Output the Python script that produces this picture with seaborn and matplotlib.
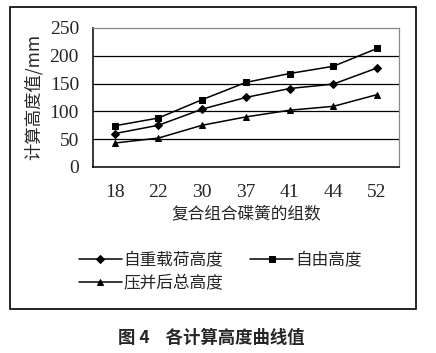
import pandas as pd
import numpy as np
import seaborn as sb
import matplotlib.pyplot as plt
from matplotlib.patches import Rectangle

# dados do gráfico
groups = ['18', '22', '30', '37', '41', '44', '52']
self_weight = [60, 75, 104, 125, 141, 149, 178]
free_height = [74, 88, 121, 152, 168, 181, 213]
compressed = [43, 52, 75, 90, 102, 109, 130]
series_names = ['自重载荷高度', '自由高度', '压并后总高度']

sb.set_style('white')
plt.rcParams['font.family'] = ['Noto Sans CJK SC', 'DejaVu Sans']

df = pd.DataFrame({
    'pos': list(range(len(groups))) * 3,
    'value': self_weight + free_height + compressed,
    'series': [series_names[0]] * 7 + [series_names[1]] * 7 + [series_names[2]] * 7,
})

fig = plt.figure(figsize=(4.36, 3.53), dpi=100)
ax = fig.add_axes([0.213, 0.527, 0.702, 0.394])

markers = {series_names[0]: 'D', series_names[1]: 's', series_names[2]: '^'}
sizes_pt = {series_names[0]: 8, series_names[1]: 8, series_names[2]: 9}
for name in series_names:
    sub = df[df.series == name]
    sb.lineplot(data=sub, x='pos', y='value', ax=ax, color='black', lw=1.1,
                marker=markers[name], markersize=sizes_pt[name], markeredgecolor='black',
                label=name)

ax.set_xlim(-0.5, 6.5)
ax.set_ylim(0, 250)
ax.set_yticks([0, 50, 100, 150, 200, 250])
ax.set_xticks(np.arange(0.5, 6, 1))
ax.set_xticks(range(7), minor=True)
ax.set_xticklabels([])
ax.set_xticklabels(groups, minor=True, fontfamily='Liberation Serif', fontsize=14)
ax.tick_params(axis='x', which='major', direction='in', length=4, width=1, color='black')
ax.tick_params(axis='x', which='minor', length=0, pad=12)
ax.tick_params(axis='y', direction='out', length=3, width=1, color='black', pad=7)
for lab in ax.get_yticklabels():
    lab.set_fontfamily('Liberation Serif')
    lab.set_fontsize(14)
for y in [50, 100, 150, 200]:
    ax.axhline(y, color='black', lw=0.9, zorder=0)

for side in ['top', 'right']:
    ax.spines[side].set_color('#888888')
    ax.spines[side].set_linewidth(0.9)
for side in ['left', 'bottom']:
    ax.spines[side].set_color('black')
    ax.spines[side].set_linewidth(1.1)

ax.set_xlabel('复合组合碟簧的组数', fontsize=12, labelpad=3)
ax.set_ylabel('计算高度值/mm', fontsize=12.5, labelpad=5)

# legenda em duas linhas
h, l = ax.get_legend_handles_labels()
for hh in h:
    hh.set_markersize(4.5)
ax.legend([h[0], h[2], h[1]], [l[0], l[2], l[1]], ncol=2, frameon=False,
          loc='upper left', bbox_to_anchor=(0.165, 0.305), bbox_transform=fig.transFigure,
          fontsize=12, handlelength=2.6, handletextpad=0.1, columnspacing=1.6,
          labelspacing=0.35, borderaxespad=0)

fig.patches.append(Rectangle((0.024, 0.125), 0.93, 0.855, transform=fig.transFigure,
                             fill=False, edgecolor='black', lw=1.2))
fig.text(0.485, 0.042, '图 4    各计算高度曲线值', ha='center', va='center',
         fontsize=12.5, fontweight='bold')

plt.savefig('out.png', dpi=100)
